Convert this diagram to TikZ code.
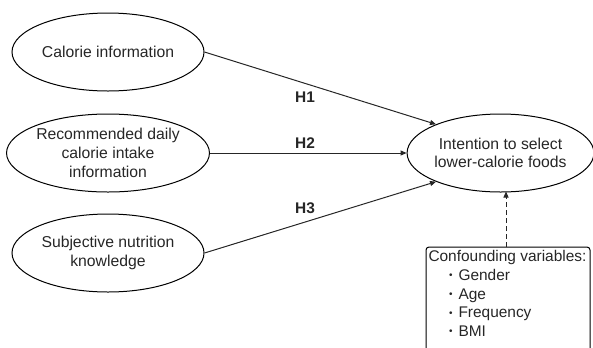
\documentclass[tikz,border=0pt]{standalone}
\usepackage{fontspec}
\setmainfont{Liberation Sans}
\usetikzlibrary{shapes.geometric,arrows.meta,calc}
\newcommand{\mybul}{\raisebox{0.2ex}{\fontsize{10}{10}\selectfont\textbullet}}
\begin{document}
\begin{tikzpicture}[x=1bp,y=-1bp,
  ell/.style={draw, ellipse, line width=1bp, minimum width=192bp, minimum height=78bp,
    inner sep=0pt, align=center, text=black!85, font=\fontsize{15.8}{18.8}\selectfont},
  arr/.style={line width=1bp, draw=black!85, -{Triangle[length=6bp,width=5bp]}},
  hyp/.style={font=\fontsize{15.5}{18}\selectfont\bfseries, text=black!85},
  confbox/.style={line width=1bp, anchor=north west,
    inner xsep=2bp, inner ysep=3bp, text=black!85, font=\fontsize{15.5}{18.8}\selectfont}]
\useasboundingbox (0,0) rectangle (593,347);
\node[ell] (ci) at (108,52) {Calorie information};
\node[ell] (rd) at (108,153) {Recommended daily\\calorie intake\\information};
\node[ell] (sn) at (108,253) {Subjective nutrition\\knowledge};
\node[ell, minimum width=183bp] (int) at (500.5,153) {Intention to select\\lower-calorie foods};
\node[confbox] (conf) at (426,247) {\parbox[t][95bp][t]{159bp}{\raggedright
  Confounding variables:\\
  \makebox[30bp][r]{\mybul\hspace{6bp}}Gender\\
  \makebox[30bp][r]{\mybul\hspace{6bp}}Age\\
  \makebox[30bp][r]{\mybul\hspace{6bp}}Frequency\\
  \makebox[30bp][r]{\mybul\hspace{6bp}}BMI}};
\draw[line width=1bp, rounded corners=3bp] (conf.west |- 0,352) -- (conf.north west) -- (conf.north east) -- (conf.east |- 0,352);
\draw[arr] (ci.east) -- (int.156);
\draw[arr] (rd.east) -- (int.west);
\draw[arr] (sn.east) -- (int.204);
\draw[arr, dash pattern=on 5bp off 3bp] (conf.north -| 506,0) -- (506,191.5);
\node[hyp] (h1) at (305,97) {H1};
\node[hyp] (h2) at (305,143) {H2};
\node[hyp] (h3) at (305,208) {H3};
\end{tikzpicture}
\end{document}
